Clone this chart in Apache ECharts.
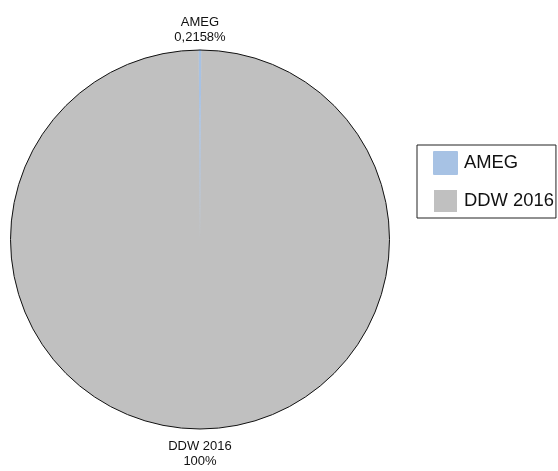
<!DOCTYPE html>
<html><head><meta charset="utf-8">
<script src="https://cdn.jsdelivr.net/npm/echarts@6/dist/echarts.min.js"></script>
<style>html,body{margin:0;padding:0;background:#fff}#c{width:558px;height:471px}</style>
</head><body><div id="c"></div>
<script>
var categories = ['AMEG', 'DDW 2016'];
var values = [0.2158, 99.7842];
var percentLabels = ['0,2158%', '100%'];
var colors = ['#a7c2e4', '#c0c0c0'];

var chart = echarts.init(document.getElementById('c'), null, {renderer: 'canvas'});
var data = categories.map(function (n, i) {
  return {name: n, value: values[i], itemStyle: {color: colors[i], borderColor: i === 0 ? colors[i] : null, borderWidth: i === 0 ? 0.8 : 0}};
});
chart.setOption({
  animation: false,
  legend: {
    orient: 'vertical', left: 417, top: 145,
    padding: [6, 2, 6, 16],
    itemWidth: 23, itemHeight: 22, itemGap: 15,
    borderColor: '#222', borderWidth: 1,
    icon: 'rect',
    textStyle: {fontFamily: 'Liberation Sans, Arial, sans-serif', fontSize: 18.4, color: '#111', padding: [0, 0, 0, 2]},
    data: categories
  },
  series: [{
    type: 'pie',
    center: [200, 239.5],
    radius: [0, 189.5],
    startAngle: 90.39,
    clockwise: true,
    avoidLabelOverlap: false,
    silent: true,
    data: data,
    labelLine: {show: false},
    label: {
      show: true, position: 'outside',
      fontFamily: 'Liberation Sans, Arial, sans-serif', fontSize: 13, color: '#111',
      lineHeight: 15, align: 'center',
      formatter: function (p) { return p.name + '\n' + percentLabels[p.dataIndex]; }
    },
    labelLayout: function (p) {
      var r = p.rect;
      if (p.dataIndex === 0) {
        return {x: r.x + r.width / 2, y: r.y - 5, align: 'center', verticalAlign: 'bottom'};
      }
      return {x: r.x + r.width / 2, y: r.y + r.height + 10, align: 'center', verticalAlign: 'top'};
    }
  }, {
    type: 'pie',
    center: [200, 239.5],
    radius: [0, 189.5],
    silent: true,
    label: {show: false},
    labelLine: {show: false},
    legendHoverLink: false,
    data: [{name: '__outline', value: 1, itemStyle: {color: 'rgba(0,0,0,0)', borderColor: '#111', borderWidth: 1}}]
  }]
});
</script></body></html>
